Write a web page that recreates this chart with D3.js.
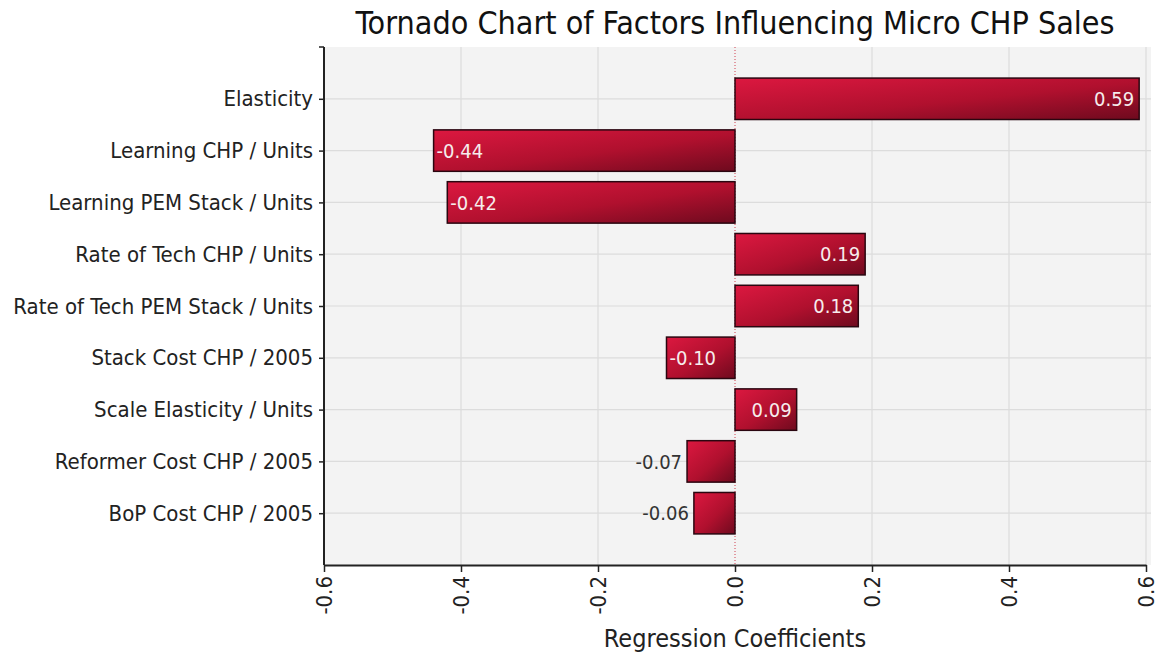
<!DOCTYPE html>
<html>
<head>
<meta charset="utf-8">
<script src="https://cdn.jsdelivr.net/npm/d3@7"></script>
<style>
  body { margin: 0; background: #fff; }
  text { font-family: "DejaVu Sans Condensed", "DejaVu Sans", sans-serif; }
</style>
</head>
<body>
<div id="chart"></div>
<script>
// factors, top to bottom
var factors = ["Elasticity", "Learning CHP / Units", "Learning PEM Stack / Units",
  "Rate of Tech CHP / Units", "Rate of Tech PEM Stack / Units", "Stack Cost CHP / 2005",
  "Scale Elasticity / Units", "Reformer Cost CHP / 2005", "BoP Cost CHP / 2005"];
var coefficients = [0.59, -0.44, -0.42, 0.19, 0.18, -0.10, 0.09, -0.07, -0.06];
var xTicks = [-0.6, -0.4, -0.2, 0.0, 0.2, 0.4, 0.6];

var width = 1158, height = 657;
var margin = {top: 47, right: 12, bottom: 92, left: 324};
var fontFam = "'DejaVu Sans Condensed', 'DejaVu Sans', sans-serif";

var svg = d3.select("#chart").append("svg")
    .attr("width", width)
    .attr("height", height);

var defs = svg.append("defs");
var grad = defs.append("linearGradient")
    .attr("id", "barGrad")
    .attr("x1", "0%").attr("y1", "0%")
    .attr("x2", "100%").attr("y2", "100%");
grad.append("stop").attr("offset", "0%").attr("stop-color", "#dc1840");
grad.append("stop").attr("offset", "55%").attr("stop-color", "#b0102e");
grad.append("stop").attr("offset", "100%").attr("stop-color", "#6e0a1e");

var x = d3.scaleLinear()
    .domain([-0.6, 0.6])
    .range([margin.left, 1146]);

var y = d3.scalePoint()
    .domain(factors)
    .range([margin.top, height - margin.bottom])
    .padding(1);

var barH = y.step() * 0.8;

// plot background
svg.append("rect")
    .attr("x", margin.left)
    .attr("y", margin.top)
    .attr("width", 1151 - margin.left)
    .attr("height", height - margin.bottom - margin.top)
    .attr("fill", "#f3f3f3");

// vertical grid
svg.append("g").selectAll("line")
    .data(xTicks.filter(function (d) { return d !== 0; }))
    .enter().append("line")
    .attr("x1", function (d) { return x(d); })
    .attr("x2", function (d) { return x(d); })
    .attr("y1", margin.top)
    .attr("y2", height - margin.bottom)
    .attr("stroke", "#dcdcdc")
    .attr("stroke-width", 1.2);

// horizontal grid at each factor
svg.append("g").selectAll("line")
    .data(factors)
    .enter().append("line")
    .attr("x1", margin.left)
    .attr("x2", 1151)
    .attr("y1", function (d) { return y(d); })
    .attr("y2", function (d) { return y(d); })
    .attr("stroke", "#dcdcdc")
    .attr("stroke-width", 1.2);

// zero line (dotted red)
svg.append("line")
    .attr("x1", x(0)).attr("x2", x(0))
    .attr("y1", margin.top).attr("y2", height - margin.bottom)
    .attr("stroke", "#d04050")
    .attr("stroke-width", 1)
    .attr("stroke-dasharray", "1,2");

var data = factors.map(function (f, i) { return {name: f, value: coefficients[i]}; });

// bars
svg.append("g").selectAll("rect")
    .data(data)
    .enter().append("rect")
    .attr("x", function (d) { return x(Math.min(0, d.value)); })
    .attr("y", function (d) { return y(d.name) - barH / 2; })
    .attr("width", function (d) { return Math.abs(x(d.value) - x(0)); })
    .attr("height", barH)
    .attr("fill", "url(#barGrad)")
    .attr("stroke", "#2a0610")
    .attr("stroke-width", 1.5);

// value labels
svg.append("g").selectAll("text")
    .data(data)
    .enter().append("text")
    .attr("y", function (d) { return y(d.name); })
    .attr("dy", "0.36em")
    .style("font-size", "20px")
    .each(function (d) {
        var w = Math.abs(x(d.value) - x(0));
        var t = d3.select(this).text(d.value.toFixed(2));
        if (w < 55) {
            t.attr("x", x(d.value) - 5).attr("text-anchor", "end").attr("fill", "#333");
        } else if (d.value > 0) {
            t.attr("x", x(d.value) - 5).attr("text-anchor", "end").attr("fill", "#f6ecec");
        } else {
            t.attr("x", x(d.value) + 3).attr("text-anchor", "start").attr("fill", "#f6ecec");
        }
    });

// axes
var yAxis = svg.append("g")
    .attr("transform", "translate(" + margin.left + ",0)")
    .call(d3.axisLeft(y).tickSize(5).tickPadding(6));
yAxis.select(".domain").attr("stroke", "#222").attr("stroke-width", 2)
    .attr("d", "M0," + margin.top + "V" + (height - margin.bottom));
yAxis.selectAll(".tick line").attr("stroke", "#222").attr("stroke-width", 1.5);
yAxis.selectAll(".tick text").style("font-size", "22px").attr("fill", "#222")
    .style("font-family", fontFam);
// top tick
svg.append("line")
    .attr("x1", margin.left - 5).attr("x2", margin.left)
    .attr("y1", margin.top).attr("y2", margin.top)
    .attr("stroke", "#222").attr("stroke-width", 1.5);

var xAxis = svg.append("g")
    .attr("transform", "translate(0," + (height - margin.bottom) + ")")
    .call(d3.axisBottom(x).tickValues(xTicks)
        .tickFormat(function (d) { return d3.format(".1f")(d).replace("\u2212", "-"); })
        .tickSize(7).tickSizeOuter(0));
xAxis.select(".domain").attr("stroke", "#222").attr("stroke-width", 2);
xAxis.selectAll(".tick line").attr("stroke", "#222").attr("stroke-width", 1.5);
xAxis.selectAll(".tick text")
    .style("font-size", "22px")
    .style("font-family", fontFam)
    .attr("fill", "#222")
    .attr("text-anchor", "end")
    .attr("transform", "rotate(-90)")
    .attr("x", -11)
    .attr("y", 0)
    .attr("dy", "0.35em");

// axis title
svg.append("text")
    .attr("x", x(0))
    .attr("y", 647)
    .attr("text-anchor", "middle")
    .style("font-size", "25px")
    .attr("fill", "#222")
    .text("Regression Coefficients");

// chart title
svg.append("text")
    .attr("x", x(0))
    .attr("y", 34)
    .attr("text-anchor", "middle")
    .style("font-size", "32px")
    .attr("fill", "#111")
    .text("Tornado Chart of Factors Influencing Micro CHP Sales");
</script>
</body>
</html>
